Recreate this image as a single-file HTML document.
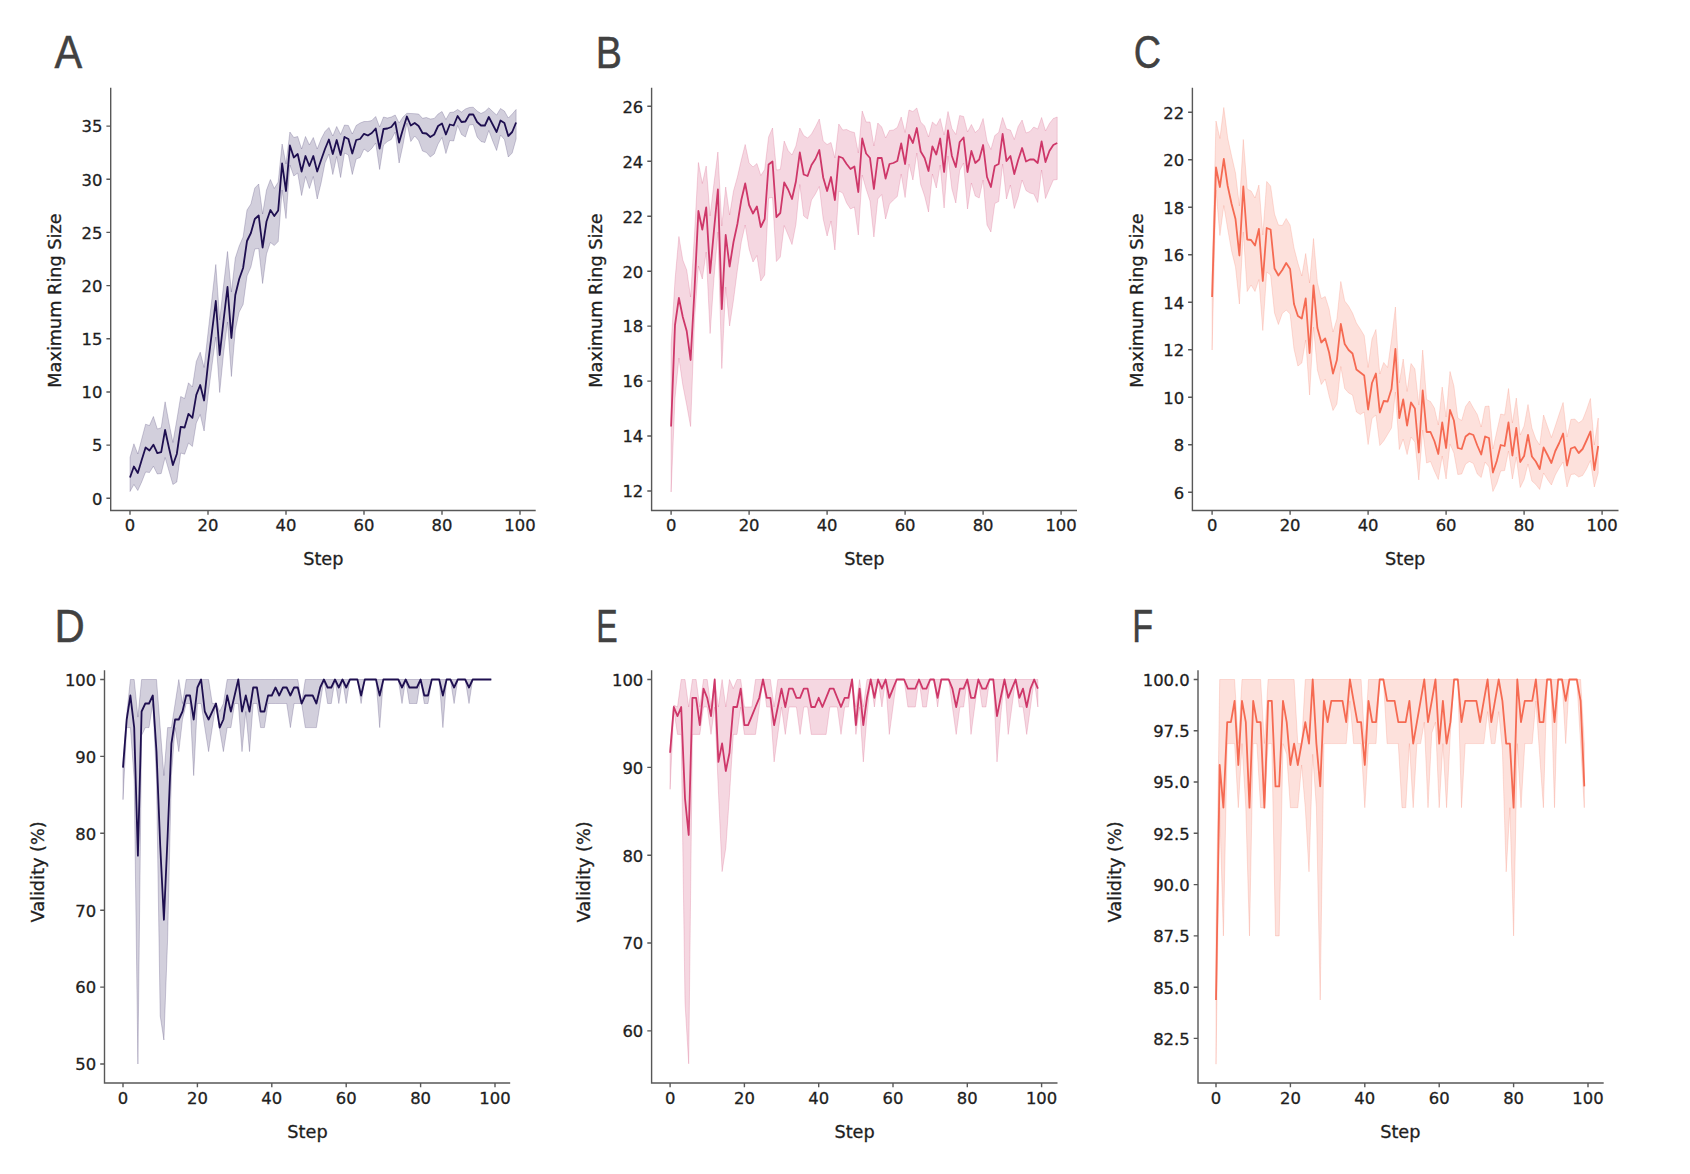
<!DOCTYPE html>
<html lang="en"><head><meta charset="utf-8"><title>Figure</title>
<style>
html,body{margin:0;padding:0;background:#fff;}
body{width:1690px;height:1174px;overflow:hidden;}
svg{display:block;}
</style></head><body>
<svg width="1690" height="1174" viewBox="0 0 1690 1174">
<rect width="1690" height="1174" fill="#ffffff"/>
<polygon points="130,457.5 133.9,443.8 137.8,454 141.7,439 145.6,424.2 149.5,425.5 153.4,416.5 157.3,429 161.2,427.8 165.1,401.8 169,423 172.9,442.5 176.8,420 180.7,396.5 184.6,398.5 188.5,382.8 192.4,387 196.3,361.5 200.2,352.2 204.1,367.5 208,333 211.9,299 215.8,264.5 219.7,320 223.6,285 227.5,251.5 231.4,292 235.3,258 239.2,246 243.1,237 247,210 250.9,204 254.8,188 258.7,184 262.6,214 266.5,190 270.4,179.5 274.3,188.5 278.2,182 282.1,144 286,164 289.9,132 293.8,137.5 297.7,136.5 301.6,149 305.5,136.5 309.4,145 313.3,137.5 317.2,149 321.1,139 325,131.5 328.9,127.5 332.8,136 336.7,126.5 340.6,134.5 344.5,125 348.4,125.5 352.3,134 356.2,125.5 360.1,123 364,121.5 367.9,121.5 371.8,120.5 375.7,116.5 379.6,127 383.5,117 387.4,118 391.3,117 395.2,115 399.1,123 403,117 406.9,113.3 410.8,113.5 414.7,113.7 418.6,114 422.5,118.3 426.4,117.5 430.3,119 434.2,118.5 438.1,114 442,111.5 445.9,119.5 449.8,112.5 453.7,112 457.6,109.5 461.5,112 465.4,109 469.3,107.5 473.2,107.2 477.1,111 481,113.5 484.9,111.5 488.8,107.8 492.7,111.5 496.6,115 500.5,108.5 504.4,111 508.3,118 512.2,114 516.1,109.5 516.1,139 512.2,153 508.3,157 504.4,139.5 500.5,135 496.6,150.5 492.7,141 488.8,130.5 484.9,142.5 481,141.5 477.1,137 473.2,124.5 469.3,125 465.4,137 461.5,134.5 457.6,125.5 453.7,141 449.8,140.5 445.9,153.5 442,137.5 438.1,144 434.2,154 430.3,157 426.4,152.5 422.5,151 418.6,140.5 414.7,136 410.8,141.5 406.9,123 403,145 399.1,163 395.2,132 391.3,139.5 387.4,141.5 383.5,145 379.6,169.5 375.7,143 371.8,148.5 367.9,152 364,149 360.1,157.5 356.2,159 352.3,174.5 348.4,155 344.5,153 340.6,177.5 336.7,156.5 332.8,174.5 328.9,154 325,163 321.1,183 317.2,199 313.3,176.5 309.4,188.5 305.5,176.5 301.6,195.5 297.7,173 293.8,176 289.9,165 286,218.5 282.1,190 278.2,241.5 274.3,245.5 270.4,242.5 266.5,254 262.6,283.5 258.7,248.5 254.8,249 250.9,267 247,276 243.1,304.5 239.2,312 235.3,330 231.4,376.5 227.5,322 223.6,353 219.7,392.5 215.8,337 211.9,366 208,396 204.1,431 200.2,414.5 196.3,423 192.4,446.5 188.5,443 184.6,454.2 180.7,453 176.8,482 172.9,484.5 169,471 165.1,457.5 161.2,473.5 157.3,474 153.4,466.2 149.5,472.5 145.6,472 141.7,482 137.8,490.5 133.9,484.5 130,491.5" fill="#1e0f50" fill-opacity="0.2" stroke="#1e0f50" stroke-opacity="0.2" stroke-width="1" stroke-linejoin="round"/>
<polyline points="130,477.5 133.9,466.5 137.8,473 141.7,460 145.6,447.5 149.5,450.5 153.4,444.7 157.3,453.2 161.2,452.2 165.1,430 169,448 172.9,465 176.8,454 180.7,426.8 184.6,427.5 188.5,413.8 192.4,417.8 196.3,394.8 200.2,385 204.1,400.5 208,364 211.9,332.5 215.8,301 219.7,355 223.6,320 227.5,287 231.4,338 235.3,295 239.2,279 243.1,268 247,241 250.9,233 254.8,219 258.7,215.5 262.6,247.5 266.5,221.5 270.4,210 274.3,216 278.2,210.5 282.1,163.5 286,191 289.9,145.5 293.8,157.5 297.7,154 301.6,171.5 305.5,156 309.4,166 313.3,156 317.2,171.5 321.1,160 325,149 328.9,139.5 332.8,154 336.7,140 340.6,155 344.5,137 348.4,139 352.3,153.5 356.2,140 360.1,139 364,133.8 367.9,135.5 371.8,133 375.7,128.5 379.6,148.5 383.5,129 387.4,128.5 391.3,127 395.2,122 399.1,142.5 403,129 406.9,116.5 410.8,125.5 414.7,123 418.6,126 422.5,133 426.4,133.5 430.3,137 434.2,134.5 438.1,126 442,123.5 445.9,134.5 449.8,124.5 453.7,125.5 457.6,116 461.5,122 465.4,121.5 469.3,114.5 473.2,114.3 477.1,122 481,125.5 484.9,125.5 488.8,117 492.7,124.5 496.6,132 500.5,120.5 504.4,123 508.3,136 512.2,132 516.1,122.5" fill="none" stroke="#1e0f50" stroke-width="1.8" stroke-linejoin="round" stroke-linecap="butt"/>
<path d="M110.7,88.5 V510.5 H535" fill="none" stroke="#585858" stroke-width="1.4" stroke-linecap="square"/>
<path d="M130,510.5 v4.3 M208,510.5 v4.3 M286,510.5 v4.3 M364,510.5 v4.3 M442,510.5 v4.3 M520,510.5 v4.3 M110.7,498.3 h-4.3 M110.7,445.1 h-4.3 M110.7,392 h-4.3 M110.7,338.8 h-4.3 M110.7,285.6 h-4.3 M110.7,232.4 h-4.3 M110.7,179.2 h-4.3 M110.7,126.1 h-4.3" stroke="#585858" stroke-width="1.4" fill="none"/>
<g font-family='"DejaVu Sans", "Liberation Sans", sans-serif' font-size="16.4" fill="#1e1e1e" stroke="#1e1e1e" stroke-width="0.3">
<g text-anchor="middle">
<text x="130" y="531.1">0</text>
<text x="208" y="531.1">20</text>
<text x="286" y="531.1">40</text>
<text x="364" y="531.1">60</text>
<text x="442" y="531.1">80</text>
<text x="520" y="531.1">100</text>
</g><g text-anchor="end">
<text x="102.4" y="504.6">0</text>
<text x="102.4" y="451.4">5</text>
<text x="102.4" y="398.3">10</text>
<text x="102.4" y="345.1">15</text>
<text x="102.4" y="291.9">20</text>
<text x="102.4" y="238.7">25</text>
<text x="102.4" y="185.6">30</text>
<text x="102.4" y="132.4">35</text>
</g>
<text x="323.3" y="565" text-anchor="middle" font-size="17.7">Step</text>
<text transform="translate(60.7,300.5) rotate(-90)" text-anchor="middle" font-size="17.7">Maximum Ring Size</text>
</g>
<text transform="translate(54.49,67.60) scale(0.41515,0.45401)" font-family='"Liberation Sans", "DejaVu Sans", sans-serif' font-size="100" fill="#414141" stroke="#414141" stroke-width="1.1">A</text>
<polygon points="671.1,345 675,280 678.9,236.5 682.8,260 686.7,270 690.6,297 694.5,234 698.4,162.5 702.3,183.5 706.2,166 710.1,216 714,183 717.9,152 721.8,226 725.7,187 729.6,215 733.5,191 737.4,177 741.3,160 745.2,144.5 749.1,163 753,167 756.9,163.5 760.8,175.5 764.7,169.5 768.6,137 772.5,128 776.4,170 780.3,169.5 784.2,141 788.1,150.5 792,155 795.9,146 799.8,128 803.7,135.5 807.6,138 811.5,134 815.4,127 819.3,119 823.2,141 827.1,144.5 831,142.5 834.9,158 838.8,124 842.7,130 846.6,129.5 850.5,131.5 854.4,132.5 858.3,153 862.2,111 866.1,122 870,122 873.9,146 877.8,123 881.7,127 885.6,138 889.5,130.5 893.4,130 897.3,127.5 901.2,117 905.1,132.5 909,110 912.9,111.5 916.8,108 920.7,122 924.6,126 928.5,137 932.4,122 936.3,125.5 940.2,118.5 944.1,135 948,111.5 951.9,128.5 955.8,134.5 959.7,115.5 963.6,116.5 967.5,132 971.4,124.5 975.3,132.5 979.2,129 983.1,118.5 987,141 990.9,149.5 994.8,135.5 998.7,132.5 1002.6,117.5 1006.5,129 1010.4,130 1014.3,139.5 1018.2,126.5 1022.1,120 1026,133 1029.9,131.5 1033.8,127 1037.7,129 1041.6,117.5 1045.5,131 1049.4,123.5 1053.3,118.5 1057.2,117 1057.2,179.5 1053.3,180 1049.4,189 1045.5,198.5 1041.6,170 1037.7,202.5 1033.8,194 1029.9,193 1026,190.5 1022.1,180 1018.2,197 1014.3,208.5 1010.4,185 1006.5,199 1002.6,164 998.7,201.5 994.8,203.5 990.9,232 987,225 983.1,180 979.2,198 975.3,196 971.4,183 967.5,209 963.6,163 959.7,170.5 955.8,203 951.9,189 948,156 944.1,208 940.2,165 936.3,188 932.4,174 928.5,212 924.6,196 920.7,184.5 916.8,153 912.9,180 909,164 905.1,197.5 901.2,174 897.3,196.5 893.4,200 889.5,204 885.6,219 881.7,194.5 877.8,199 873.9,237 870,201 866.1,189 862.2,175 858.3,235 854.4,207 850.5,209 846.6,203 842.7,193 838.8,191 834.9,250 831,221 827.1,236 823.2,219 819.3,186.5 815.4,194 811.5,200 807.6,219 803.7,216 799.8,184.5 795.9,224.5 792,244.5 788.1,235 784.2,225.5 780.3,257 776.4,261.5 772.5,197.5 768.6,198 764.7,275 760.8,281 756.9,255.5 753,262 749.1,249 745.2,225 741.3,242 737.4,270 733.5,300 729.6,326 725.7,287 721.8,368.5 717.9,232 714,278 710.1,333.5 706.2,252 702.3,279 698.4,266 694.5,320 690.6,426.5 686.7,405 682.8,385 678.9,358 675,398 671.1,492" fill="#ce3769" fill-opacity="0.2" stroke="#ce3769" stroke-opacity="0.2" stroke-width="1" stroke-linejoin="round"/>
<polyline points="671.1,426.5 675,325 678.9,298 682.8,317 686.7,331 690.6,360 694.5,290 698.4,211 702.3,229.5 706.2,207.5 710.1,273 714,230 717.9,189.5 721.8,309 725.7,235 729.6,266.5 733.5,242 737.4,224 741.3,200 745.2,183.5 749.1,205 753,213.5 756.9,206.5 760.8,227 764.7,219 768.6,164.5 772.5,161.5 776.4,217 780.3,213 784.2,182.5 788.1,189.5 792,199 795.9,181.5 799.8,152.5 803.7,174.5 807.6,176 811.5,165 815.4,159 819.3,150 823.2,177.5 827.1,191 831,177 834.9,200 838.8,156.5 842.7,158 846.6,164 850.5,169 854.4,166.5 858.3,192 862.2,138.5 866.1,153.5 870,158 873.9,189 877.8,158 881.7,158 885.6,178.5 889.5,164 893.4,163 897.3,161 901.2,143.5 905.1,164 909,135 912.9,143 916.8,128 920.7,151.5 924.6,158 928.5,171 932.4,146.5 936.3,154.5 940.2,138.5 944.1,172 948,130.5 951.9,156 955.8,167 959.7,142 963.6,137.5 967.5,172 971.4,151 975.3,163 979.2,159.5 983.1,145 987,177 990.9,187 994.8,166 998.7,164 1002.6,134 1006.5,161 1010.4,156 1014.3,174 1018.2,160 1022.1,148 1026,161.5 1029.9,159.5 1033.8,159.5 1037.7,163 1041.6,141.5 1045.5,162 1049.4,151 1053.3,145 1057.2,143" fill="none" stroke="#ce3769" stroke-width="1.8" stroke-linejoin="round" stroke-linecap="butt"/>
<path d="M651.6,88.5 V510.5 H1076.3" fill="none" stroke="#585858" stroke-width="1.4" stroke-linecap="square"/>
<path d="M671.1,510.5 v4.3 M749.1,510.5 v4.3 M827.1,510.5 v4.3 M905.1,510.5 v4.3 M983.1,510.5 v4.3 M1061.1,510.5 v4.3 M651.6,491 h-4.3 M651.6,436 h-4.3 M651.6,381.1 h-4.3 M651.6,326.1 h-4.3 M651.6,271.2 h-4.3 M651.6,216.2 h-4.3 M651.6,161.2 h-4.3 M651.6,106.3 h-4.3" stroke="#585858" stroke-width="1.4" fill="none"/>
<g font-family='"DejaVu Sans", "Liberation Sans", sans-serif' font-size="16.4" fill="#1e1e1e" stroke="#1e1e1e" stroke-width="0.3">
<g text-anchor="middle">
<text x="671.1" y="531.1">0</text>
<text x="749.1" y="531.1">20</text>
<text x="827.1" y="531.1">40</text>
<text x="905.1" y="531.1">60</text>
<text x="983.1" y="531.1">80</text>
<text x="1061.1" y="531.1">100</text>
</g><g text-anchor="end">
<text x="643.3" y="497.3">12</text>
<text x="643.3" y="442.3">14</text>
<text x="643.3" y="387.4">16</text>
<text x="643.3" y="332.4">18</text>
<text x="643.3" y="277.5">20</text>
<text x="643.3" y="222.5">22</text>
<text x="643.3" y="167.5">24</text>
<text x="643.3" y="112.6">26</text>
</g>
<text x="864.3" y="565" text-anchor="middle" font-size="17.7">Step</text>
<text transform="translate(601.6,300.5) rotate(-90)" text-anchor="middle" font-size="17.7">Maximum Ring Size</text>
</g>
<text transform="translate(595.66,67.60) scale(0.39252,0.45072)" font-family='"Liberation Sans", "DejaVu Sans", sans-serif' font-size="100" fill="#414141" stroke="#414141" stroke-width="1.1">B</text>
<polygon points="1212.1,275 1216,121 1219.9,138.5 1223.8,107.5 1227.7,138 1231.6,156 1235.5,173 1239.4,206 1243.3,139.5 1247.2,189 1251.1,191 1255,198 1258.9,185 1262.8,235 1266.7,181.5 1270.6,186 1274.5,214 1278.4,225 1282.3,225.5 1286.2,218.5 1290.1,225 1294,248 1297.9,263 1301.8,276 1305.7,253.5 1309.6,283 1313.5,238.5 1317.4,282.5 1321.3,298.5 1325.2,296.5 1329.1,309 1333,332 1336.9,319 1340.8,281.5 1344.7,301 1348.6,306 1352.5,313 1356.4,323 1360.3,329 1364.2,335.5 1368.1,367.5 1372,339 1375.9,329.5 1379.8,374 1383.7,362.5 1387.6,367.5 1391.5,340 1395.4,307 1399.3,383 1403.2,359 1407.1,391.5 1411,363.5 1414.9,369 1418.8,405 1422.7,350 1426.6,399.5 1430.5,401.5 1434.4,408 1438.3,425 1442.2,387 1446.1,417 1450,371.5 1453.9,386 1457.8,418 1461.7,420.5 1465.6,406.5 1469.5,401 1473.4,408 1477.3,414.5 1481.2,427 1485.1,406.5 1489,406 1492.9,449 1496.8,431.5 1500.7,414 1504.6,415 1508.5,388.5 1512.4,423 1516.3,398 1520.2,435 1524.1,426 1528,404.5 1531.9,428 1535.8,439 1539.7,445 1543.6,415 1547.5,426.5 1551.4,437.5 1555.3,426 1559.2,414 1563.1,402.5 1567,437 1570.9,419.5 1574.8,419 1578.7,423 1582.6,420 1586.5,410 1590.4,398.5 1594.3,445 1598.2,418 1598.2,473 1594.3,487 1590.4,460.5 1586.5,469 1582.6,475.5 1578.7,477 1574.8,474 1570.9,474.5 1567,487 1563.1,462 1559.2,468 1555.3,475 1551.4,485 1547.5,479.5 1543.6,473 1539.7,489.5 1535.8,484.5 1531.9,481 1528,464 1524.1,479.5 1520.2,487.5 1516.3,457 1512.4,479 1508.5,451 1504.6,470.5 1500.7,471 1496.8,483.5 1492.9,491.5 1489,467 1485.1,462 1481.2,477.5 1477.3,474 1473.4,463.5 1469.5,461.5 1465.6,464 1461.7,474 1457.8,474.5 1453.9,453 1450,444 1446.1,479 1442.2,456 1438.3,479.5 1434.4,471 1430.5,461.5 1426.6,463 1422.7,430 1418.8,480 1414.9,442 1411,437 1407.1,454.5 1403.2,439 1399.3,449.5 1395.4,392 1391.5,428 1387.6,434.5 1383.7,441 1379.8,445.5 1375.9,415 1372,418.5 1368.1,444.5 1364.2,412 1360.3,414.5 1356.4,412 1352.5,395 1348.6,393 1344.7,388.5 1340.8,366.5 1336.9,404 1333,410.5 1329.1,396 1325.2,379 1321.3,384.5 1317.4,370 1313.5,327 1309.6,395 1305.7,340 1301.8,363 1297.9,366 1294,349 1290.1,314 1286.2,310 1282.3,313.5 1278.4,324.5 1274.5,313 1270.6,275 1266.7,272 1262.8,330.5 1258.9,279.5 1255,291.5 1251.1,285 1247.2,291.5 1243.3,232 1239.4,304 1235.5,267 1231.6,251 1227.7,229 1223.8,205.5 1219.9,235.5 1216,190 1212.1,350" fill="#f56a52" fill-opacity="0.2" stroke="#f56a52" stroke-opacity="0.2" stroke-width="1" stroke-linejoin="round"/>
<polyline points="1212.1,297 1216,167.5 1219.9,187 1223.8,159 1227.7,186 1231.6,204 1235.5,219 1239.4,255.5 1243.3,186.5 1247.2,239.5 1251.1,240 1255,245.5 1258.9,229 1262.8,281 1266.7,228 1270.6,229.5 1274.5,268.5 1278.4,275.5 1282.3,270 1286.2,263 1290.1,269 1294,304 1297.9,316 1301.8,318.5 1305.7,298.5 1309.6,353 1313.5,285.5 1317.4,328 1321.3,342.5 1325.2,338.5 1329.1,352.5 1333,373.5 1336.9,360 1340.8,324 1344.7,344 1348.6,350 1352.5,353.5 1356.4,369.5 1360.3,372.5 1364.2,375.5 1368.1,409.5 1372,383 1375.9,373.5 1379.8,412.5 1383.7,401 1387.6,401.5 1391.5,389 1395.4,349 1399.3,418 1403.2,399.5 1407.1,425.5 1411,402.5 1414.9,408.5 1418.8,452.5 1422.7,390.5 1426.6,432 1430.5,432 1434.4,441 1438.3,454 1442.2,422.5 1446.1,448 1450,410 1453.9,420.5 1457.8,448 1461.7,449 1465.6,436.5 1469.5,433.5 1473.4,435 1477.3,445.5 1481.2,454.5 1485.1,436.5 1489,438 1492.9,472.5 1496.8,461 1500.7,445 1504.6,446 1508.5,422.5 1512.4,455.5 1516.3,428 1520.2,462 1524.1,456 1528,435 1531.9,456.5 1535.8,461.5 1539.7,469 1543.6,447.5 1547.5,455 1551.4,463 1555.3,451 1559.2,443 1563.1,433.5 1567,465.5 1570.9,448.5 1574.8,447 1578.7,453 1582.6,449 1586.5,440.5 1590.4,431.5 1594.3,470 1598.2,446" fill="none" stroke="#f56a52" stroke-width="1.8" stroke-linejoin="round" stroke-linecap="butt"/>
<path d="M1192.4,88.5 V510.5 H1617.8" fill="none" stroke="#585858" stroke-width="1.4" stroke-linecap="square"/>
<path d="M1212.1,510.5 v4.3 M1290.1,510.5 v4.3 M1368.1,510.5 v4.3 M1446.1,510.5 v4.3 M1524.1,510.5 v4.3 M1602.1,510.5 v4.3 M1192.4,492.3 h-4.3 M1192.4,444.8 h-4.3 M1192.4,397.3 h-4.3 M1192.4,349.8 h-4.3 M1192.4,302.3 h-4.3 M1192.4,254.8 h-4.3 M1192.4,207.3 h-4.3 M1192.4,159.8 h-4.3 M1192.4,112.3 h-4.3" stroke="#585858" stroke-width="1.4" fill="none"/>
<g font-family='"DejaVu Sans", "Liberation Sans", sans-serif' font-size="16.4" fill="#1e1e1e" stroke="#1e1e1e" stroke-width="0.3">
<g text-anchor="middle">
<text x="1212.1" y="531.1">0</text>
<text x="1290.1" y="531.1">20</text>
<text x="1368.1" y="531.1">40</text>
<text x="1446.1" y="531.1">60</text>
<text x="1524.1" y="531.1">80</text>
<text x="1602.1" y="531.1">100</text>
</g><g text-anchor="end">
<text x="1184.1" y="498.6">6</text>
<text x="1184.1" y="451.1">8</text>
<text x="1184.1" y="403.6">10</text>
<text x="1184.1" y="356.1">12</text>
<text x="1184.1" y="308.6">14</text>
<text x="1184.1" y="261.1">16</text>
<text x="1184.1" y="213.6">18</text>
<text x="1184.1" y="166.1">20</text>
<text x="1184.1" y="118.6">22</text>
</g>
<text x="1405.2" y="565" text-anchor="middle" font-size="17.7">Step</text>
<text transform="translate(1142.6,300.5) rotate(-90)" text-anchor="middle" font-size="17.7">Maximum Ring Size</text>
</g>
<text transform="translate(1133.81,67.83) scale(0.37778,0.46831)" font-family='"Liberation Sans", "DejaVu Sans", sans-serif' font-size="100" fill="#414141" stroke="#414141" stroke-width="1.1">C</text>
<polygon points="123,762 126.7,713.9 130.4,679.5 134.2,679.5 137.9,717.1 141.6,679.5 145.3,679.5 149,679.5 152.8,679.5 156.5,679.5 160.2,727.6 163.9,775.6 167.6,727.6 171.4,727.6 175.1,703.5 178.8,679.5 182.5,703.5 186.2,679.5 190,679.5 193.7,679.5 197.4,679.5 201.1,679.5 204.8,679.5 208.6,679.5 212.3,703.5 216,703.5 219.7,711.5 223.4,703.5 227.2,679.5 230.9,679.5 234.6,679.5 238.3,679.5 242,679.5 245.8,679.5 249.5,679.5 253.2,679.5 256.9,679.5 260.6,679.5 264.4,679.5 268.1,679.5 271.8,679.5 275.5,679.5 279.2,679.5 283,679.5 286.7,679.5 290.4,679.5 294.1,679.5 297.8,679.5 301.6,703.5 305.3,679.5 309,679.5 312.7,679.5 316.4,679.5 320.2,679.5 323.9,679.5 327.6,679.5 331.3,679.5 335,679.5 338.8,679.5 342.5,679.5 346.2,679.5 349.9,679.5 353.6,679.5 357.4,679.5 361.1,679.5 364.8,679.5 368.5,679.5 372.2,679.5 376,679.5 379.7,679.5 383.4,679.5 387.1,679.5 390.8,679.5 394.6,679.5 398.3,679.5 402,679.5 405.7,679.5 409.4,679.5 413.2,679.5 416.9,679.5 420.6,679.5 424.3,679.5 428,679.5 431.8,679.5 435.5,679.5 439.2,679.5 442.9,679.5 446.6,679.5 450.4,679.5 454.1,679.5 457.8,679.5 461.5,679.5 465.2,679.5 469,679.5 472.7,679.5 476.4,679.5 480.1,679.5 483.8,679.5 487.6,679.5 491.3,679.5 491.3,679.5 487.6,679.5 483.8,679.5 480.1,679.5 476.4,679.5 472.7,679.5 469,703.5 465.2,679.5 461.5,679.5 457.8,679.5 454.1,703.5 450.4,679.5 446.6,679.5 442.9,727.6 439.2,679.5 435.5,679.5 431.8,679.5 428,703.5 424.3,703.5 420.6,679.5 416.9,703.5 413.2,703.5 409.4,703.5 405.7,679.5 402,703.5 398.3,679.5 394.6,679.5 390.8,679.5 387.1,679.5 383.4,679.5 379.7,727.6 376,679.5 372.2,679.5 368.5,679.5 364.8,679.5 361.1,703.5 357.4,679.5 353.6,679.5 349.9,679.5 346.2,703.5 342.5,679.5 338.8,703.5 335,679.5 331.3,703.5 327.6,703.5 323.9,679.5 320.2,703.5 316.4,727.6 312.7,727.6 309,727.6 305.3,727.6 301.6,703.5 297.8,703.5 294.1,703.5 290.4,727.6 286.7,703.5 283,703.5 279.2,703.5 275.5,703.5 271.8,703.5 268.1,703.5 264.4,727.6 260.6,727.6 256.9,703.5 253.2,703.5 249.5,751.6 245.8,711.5 242,751.6 238.3,703.5 234.6,703.5 230.9,727.6 227.2,727.6 223.4,751.6 219.7,730 216,703.5 212.3,727.6 208.6,751.6 204.8,727.6 201.1,703.5 197.4,703.5 193.7,775.6 190,703.5 186.2,703.5 182.5,719.5 178.8,751.6 175.1,727.6 171.4,775.6 167.6,939.8 163.9,1040 160.2,1015.9 156.5,779.6 152.8,703.5 149,727.6 145.3,727.6 141.6,735.6 137.9,1064 134.2,779.6 130.4,727.6 126.7,727.6 123,799.6" fill="#1e0f50" fill-opacity="0.2" stroke="#1e0f50" stroke-opacity="0.2" stroke-width="1" stroke-linejoin="round"/>
<polyline points="123,767.6 126.7,719.5 130.4,695.5 134.2,727.6 137.9,855.7 141.6,711.5 145.3,703.5 149,703.5 152.8,695.5 156.5,751.6 160.2,845.3 163.9,919.8 167.6,836.5 171.4,743.6 175.1,719.5 178.8,719.5 182.5,711.5 186.2,695.5 190,695.5 193.7,719.5 197.4,687.5 201.1,679.5 204.8,711.5 208.6,719.5 212.3,711.5 216,703.5 219.7,727.6 223.4,719.5 227.2,695.5 230.9,711.5 234.6,695.5 238.3,679.5 242,711.5 245.8,695.5 249.5,711.5 253.2,687.5 256.9,687.5 260.6,711.5 264.4,711.5 268.1,695.5 271.8,695.5 275.5,687.5 279.2,695.5 283,687.5 286.7,687.5 290.4,695.5 294.1,687.5 297.8,687.5 301.6,703.5 305.3,695.5 309,695.5 312.7,695.5 316.4,703.5 320.2,687.5 323.9,679.5 327.6,687.5 331.3,687.5 335,679.5 338.8,687.5 342.5,679.5 346.2,687.5 349.9,679.5 353.6,679.5 357.4,679.5 361.1,695.5 364.8,679.5 368.5,679.5 372.2,679.5 376,679.5 379.7,695.5 383.4,679.5 387.1,679.5 390.8,679.5 394.6,679.5 398.3,679.5 402,687.5 405.7,679.5 409.4,687.5 413.2,687.5 416.9,687.5 420.6,679.5 424.3,695.5 428,695.5 431.8,679.5 435.5,679.5 439.2,679.5 442.9,695.5 446.6,679.5 450.4,679.5 454.1,687.5 457.8,679.5 461.5,679.5 465.2,679.5 469,687.5 472.7,679.5 476.4,679.5 480.1,679.5 483.8,679.5 487.6,679.5 491.3,679.5" fill="none" stroke="#1e0f50" stroke-width="1.8" stroke-linejoin="round" stroke-linecap="butt"/>
<path d="M104.5,671 V1083 H509.5" fill="none" stroke="#585858" stroke-width="1.4" stroke-linecap="square"/>
<path d="M123,1083 v4.3 M197.4,1083 v4.3 M271.8,1083 v4.3 M346.2,1083 v4.3 M420.6,1083 v4.3 M495,1083 v4.3 M104.5,1064 h-4.3 M104.5,987.1 h-4.3 M104.5,910.2 h-4.3 M104.5,833.3 h-4.3 M104.5,756.4 h-4.3 M104.5,679.5 h-4.3" stroke="#585858" stroke-width="1.4" fill="none"/>
<g font-family='"DejaVu Sans", "Liberation Sans", sans-serif' font-size="16.4" fill="#1e1e1e" stroke="#1e1e1e" stroke-width="0.3">
<g text-anchor="middle">
<text x="123" y="1103.6">0</text>
<text x="197.4" y="1103.6">20</text>
<text x="271.8" y="1103.6">40</text>
<text x="346.2" y="1103.6">60</text>
<text x="420.6" y="1103.6">80</text>
<text x="495" y="1103.6">100</text>
</g><g text-anchor="end">
<text x="96.2" y="1070.3">50</text>
<text x="96.2" y="993.4">60</text>
<text x="96.2" y="916.5">70</text>
<text x="96.2" y="839.6">80</text>
<text x="96.2" y="762.7">90</text>
<text x="96.2" y="685.8">100</text>
</g>
<text x="307.5" y="1138" text-anchor="middle" font-size="17.7">Step</text>
<text transform="translate(44.4,872) rotate(-90)" text-anchor="middle" font-size="17.7">Validity (%)</text>
</g>
<text transform="translate(54.45,642.30) scale(0.41849,0.46232)" font-family='"Liberation Sans", "DejaVu Sans", sans-serif' font-size="100" fill="#414141" stroke="#414141" stroke-width="1.1">D</text>
<polygon points="670.1,748.1 673.8,705.1 677.5,707 681.2,679.5 685,679.5 688.7,707 692.4,679.5 696.1,679.5 699.8,707 703.5,679.5 707.2,679.5 711,707 714.7,679.5 718.4,707 722.1,679.5 725.8,707 729.5,679.5 733.3,688.6 737,679.5 740.7,679.5 744.4,707 748.1,707 751.8,707 755.5,679.5 759.3,679.5 763,679.5 766.7,679.5 770.4,679.5 774.1,707 777.8,679.5 781.5,679.5 785.3,679.5 789,679.5 792.7,679.5 796.4,679.5 800.1,679.5 803.8,679.5 807.6,679.5 811.3,679.5 815,679.5 818.7,679.5 822.4,679.5 826.1,679.5 829.8,679.5 833.6,679.5 837.3,679.5 841,679.5 844.7,679.5 848.4,679.5 852.1,679.5 855.9,707 859.6,679.5 863.3,707 867,679.5 870.7,679.5 874.4,679.5 878.1,679.5 881.9,679.5 885.6,679.5 889.3,679.5 893,679.5 896.7,679.5 900.4,679.5 904.1,679.5 907.9,679.5 911.6,679.5 915.3,679.5 919,679.5 922.7,679.5 926.4,679.5 930.2,679.5 933.9,679.5 937.6,679.5 941.3,679.5 945,679.5 948.7,679.5 952.4,679.5 956.2,679.5 959.9,679.5 963.6,679.5 967.3,679.5 971,679.5 974.7,679.5 978.4,679.5 982.2,679.5 985.9,679.5 989.6,679.5 993.3,679.5 997,679.5 1000.7,679.5 1004.5,679.5 1008.2,679.5 1011.9,679.5 1015.6,679.5 1019.3,679.5 1023,679.5 1026.7,679.5 1030.5,679.5 1034.2,679.5 1037.9,679.5 1037.9,707 1034.2,679.5 1030.5,707 1026.7,734.4 1023,707 1019.3,707 1015.6,679.5 1011.9,707 1008.2,734.4 1004.5,679.5 1000.7,716.1 997,761.9 993.3,679.5 989.6,679.5 985.9,707 982.2,707 978.4,679.5 974.7,707 971,734.4 967.3,679.5 963.6,707 959.9,707 956.2,734.4 952.4,707 948.7,679.5 945,679.5 941.3,679.5 937.6,707 933.9,679.5 930.2,679.5 926.4,707 922.7,707 919,679.5 915.3,707 911.6,707 907.9,707 904.1,679.5 900.4,679.5 896.7,679.5 893,707 889.3,734.4 885.6,679.5 881.9,707 878.1,679.5 874.4,707 870.7,679.5 867,716.1 863.3,761.9 859.6,707 855.9,734.4 852.1,679.5 848.4,707 844.7,707 841,734.4 837.3,707 833.6,707 829.8,707 826.1,734.4 822.4,734.4 818.7,734.4 815,734.4 811.3,734.4 807.6,707 803.8,707 800.1,734.4 796.4,707 792.7,707 789,707 785.3,734.4 781.5,707 777.8,734.4 774.1,761.9 770.4,707 766.7,707 763,679.5 759.3,707 755.5,734.4 751.8,734.4 748.1,734.4 744.4,734.4 740.7,707 737,734.4 733.3,734.4 729.5,794.8 725.8,847.9 722.1,871.6 718.4,791.1 714.7,707 711,734.4 707.2,707 703.5,707 699.8,734.4 696.1,734.4 692.4,734.4 688.7,1063.8 685,1002.5 681.2,734.4 677.5,734.4 673.8,709.7 670.1,789.3" fill="#ce3769" fill-opacity="0.2" stroke="#ce3769" stroke-opacity="0.2" stroke-width="1" stroke-linejoin="round"/>
<polyline points="670.1,752.7 673.8,707 677.5,716.1 681.2,707 685,798.5 688.7,835 692.4,697.8 696.1,697.8 699.8,725.2 703.5,688.6 707.2,697.8 711,716.1 714.7,679.5 718.4,761.9 722.1,743.5 725.8,771 729.5,752.7 733.3,707 737,707 740.7,688.6 744.4,725.2 748.1,725.2 751.8,716.1 755.5,707 759.3,697.8 763,679.5 766.7,697.8 770.4,697.8 774.1,725.2 777.8,707 781.5,688.6 785.3,707 789,688.6 792.7,688.6 796.4,697.8 800.1,697.8 803.8,688.6 807.6,688.6 811.3,707 815,707 818.7,697.8 822.4,707 826.1,697.8 829.8,688.6 833.6,688.6 837.3,697.8 841,707 844.7,697.8 848.4,697.8 852.1,679.5 855.9,725.2 859.6,688.6 863.3,725.2 867,697.8 870.7,679.5 874.4,697.8 878.1,679.5 881.9,688.6 885.6,679.5 889.3,697.8 893,688.6 896.7,679.5 900.4,679.5 904.1,679.5 907.9,688.6 911.6,688.6 915.3,688.6 919,679.5 922.7,688.6 926.4,688.6 930.2,679.5 933.9,679.5 937.6,697.8 941.3,679.5 945,679.5 948.7,679.5 952.4,688.6 956.2,707 959.9,688.6 963.6,688.6 967.3,679.5 971,697.8 974.7,697.8 978.4,679.5 982.2,688.6 985.9,688.6 989.6,679.5 993.3,679.5 997,716.1 1000.7,697.8 1004.5,679.5 1008.2,697.8 1011.9,688.6 1015.6,679.5 1019.3,697.8 1023,688.6 1026.7,707 1030.5,688.6 1034.2,679.5 1037.9,688.6" fill="none" stroke="#ce3769" stroke-width="1.8" stroke-linejoin="round" stroke-linecap="butt"/>
<path d="M651.6,671 V1083 H1056.8" fill="none" stroke="#585858" stroke-width="1.4" stroke-linecap="square"/>
<path d="M670.1,1083 v4.3 M744.4,1083 v4.3 M818.7,1083 v4.3 M893,1083 v4.3 M967.3,1083 v4.3 M1041.6,1083 v4.3 M651.6,1030.9 h-4.3 M651.6,943 h-4.3 M651.6,855.2 h-4.3 M651.6,767.4 h-4.3 M651.6,679.5 h-4.3" stroke="#585858" stroke-width="1.4" fill="none"/>
<g font-family='"DejaVu Sans", "Liberation Sans", sans-serif' font-size="16.4" fill="#1e1e1e" stroke="#1e1e1e" stroke-width="0.3">
<g text-anchor="middle">
<text x="670.1" y="1103.6">0</text>
<text x="744.4" y="1103.6">20</text>
<text x="818.7" y="1103.6">40</text>
<text x="893" y="1103.6">60</text>
<text x="967.3" y="1103.6">80</text>
<text x="1041.6" y="1103.6">100</text>
</g><g text-anchor="end">
<text x="643.3" y="1037.2">60</text>
<text x="643.3" y="949.3">70</text>
<text x="643.3" y="861.5">80</text>
<text x="643.3" y="773.6">90</text>
<text x="643.3" y="685.8">100</text>
</g>
<text x="854.6" y="1138" text-anchor="middle" font-size="17.7">Step</text>
<text transform="translate(590.4,872) rotate(-90)" text-anchor="middle" font-size="17.7">Validity (%)</text>
</g>
<text transform="translate(596.33,642.30) scale(0.32110,0.46087)" font-family='"Liberation Sans", "DejaVu Sans", sans-serif' font-size="100" fill="#414141" stroke="#414141" stroke-width="1.1">E</text>
<polygon points="1216,935.9 1219.7,679.5 1223.4,679.5 1227.2,679.5 1230.9,679.5 1234.6,679.5 1238.3,743.6 1242,679.5 1245.8,679.5 1249.5,679.5 1253.2,679.5 1256.9,679.5 1260.6,679.5 1264.4,743.6 1268.1,679.5 1271.8,679.5 1275.5,679.5 1279.2,679.5 1283,679.5 1286.7,679.5 1290.4,679.5 1294.1,679.5 1297.8,743.6 1301.6,743.6 1305.3,679.5 1309,679.5 1312.7,679.5 1316.4,679.5 1320.2,679.5 1323.9,679.5 1327.6,679.5 1331.3,679.5 1335,679.5 1338.8,679.5 1342.5,679.5 1346.2,679.5 1349.9,679.5 1353.6,679.5 1357.4,679.5 1361.1,679.5 1364.8,743.6 1368.5,679.5 1372.2,679.5 1376,679.5 1379.7,679.5 1383.4,679.5 1387.1,679.5 1390.8,679.5 1394.6,679.5 1398.3,679.5 1402,679.5 1405.7,679.5 1409.4,679.5 1413.2,679.5 1416.9,679.5 1420.6,679.5 1424.3,679.5 1428,679.5 1431.8,679.5 1435.5,679.5 1439.2,679.5 1442.9,679.5 1446.6,679.5 1450.4,679.5 1454.1,679.5 1457.8,679.5 1461.5,679.5 1465.2,679.5 1469,679.5 1472.7,679.5 1476.4,679.5 1480.1,679.5 1483.8,679.5 1487.6,679.5 1491.3,679.5 1495,679.5 1498.7,679.5 1502.4,679.5 1506.2,679.5 1509.9,679.5 1513.6,679.5 1517.3,679.5 1521,679.5 1524.8,679.5 1528.5,679.5 1532.2,679.5 1535.9,679.5 1539.6,679.5 1543.4,679.5 1547.1,679.5 1550.8,679.5 1554.5,679.5 1558.2,679.5 1562,679.5 1565.7,679.5 1569.4,679.5 1573.1,679.5 1576.8,679.5 1580.6,679.5 1584.3,743.6 1584.3,807.7 1580.6,743.6 1576.8,679.5 1573.1,679.5 1569.4,679.5 1565.7,743.6 1562,679.5 1558.2,679.5 1554.5,807.7 1550.8,679.5 1547.1,679.5 1543.4,807.7 1539.6,754.3 1535.9,700.9 1532.2,743.6 1528.5,743.6 1524.8,743.6 1521,807.7 1517.3,743.6 1513.6,935.9 1509.9,807.7 1506.2,871.8 1502.4,750 1498.7,711.6 1495,743.6 1491.3,743.6 1487.6,711.6 1483.8,743.6 1480.1,743.6 1476.4,743.6 1472.7,743.6 1469,743.6 1465.2,743.6 1461.5,807.7 1457.8,679.5 1454.1,679.5 1450.4,732.9 1446.6,807.7 1442.9,743.6 1439.2,807.7 1435.5,722.2 1431.8,732.9 1428,807.7 1424.3,722.2 1420.6,743.6 1416.9,743.6 1413.2,807.7 1409.4,743.6 1405.7,807.7 1402,807.7 1398.3,743.6 1394.6,743.6 1390.8,743.6 1387.1,743.6 1383.4,679.5 1379.7,679.5 1376,743.6 1372.2,743.6 1368.5,743.6 1364.8,807.7 1361.1,743.6 1357.4,743.6 1353.6,743.6 1349.9,700.9 1346.2,743.6 1342.5,743.6 1338.8,743.6 1335,743.6 1331.3,743.6 1327.6,743.6 1323.9,743.6 1320.2,1000 1316.4,807.7 1312.7,754.3 1309,871.8 1305.3,807.7 1301.6,765 1297.8,807.7 1294.1,807.7 1290.4,807.7 1286.7,754.3 1283,743.6 1279.2,935.9 1275.5,935.9 1271.8,743.6 1268.1,743.6 1264.4,807.7 1260.6,807.7 1256.9,743.6 1253.2,743.6 1249.5,935.9 1245.8,807.7 1242,743.6 1238.3,807.7 1234.6,743.6 1230.9,743.6 1227.2,743.6 1223.4,935.9 1219.7,807.7 1216,1064.2" fill="#f56a52" fill-opacity="0.2" stroke="#f56a52" stroke-opacity="0.2" stroke-width="1" stroke-linejoin="round"/>
<polyline points="1216,1000 1219.7,765 1223.4,807.7 1227.2,722.2 1230.9,722.2 1234.6,700.9 1238.3,765 1242,700.9 1245.8,722.2 1249.5,807.7 1253.2,700.9 1256.9,722.2 1260.6,722.2 1264.4,807.7 1268.1,700.9 1271.8,700.9 1275.5,786.4 1279.2,786.4 1283,700.9 1286.7,722.2 1290.4,765 1294.1,743.6 1297.8,765 1301.6,743.6 1305.3,722.2 1309,743.6 1312.7,679.5 1316.4,743.6 1320.2,786.4 1323.9,700.9 1327.6,722.2 1331.3,700.9 1335,700.9 1338.8,700.9 1342.5,700.9 1346.2,722.2 1349.9,679.5 1353.6,700.9 1357.4,722.2 1361.1,722.2 1364.8,765 1368.5,700.9 1372.2,722.2 1376,722.2 1379.7,679.5 1383.4,679.5 1387.1,700.9 1390.8,700.9 1394.6,700.9 1398.3,722.2 1402,722.2 1405.7,722.2 1409.4,700.9 1413.2,743.6 1416.9,722.2 1420.6,700.9 1424.3,679.5 1428,722.2 1431.8,700.9 1435.5,679.5 1439.2,743.6 1442.9,700.9 1446.6,743.6 1450.4,722.2 1454.1,679.5 1457.8,679.5 1461.5,722.2 1465.2,700.9 1469,700.9 1472.7,700.9 1476.4,700.9 1480.1,722.2 1483.8,700.9 1487.6,679.5 1491.3,722.2 1495,700.9 1498.7,679.5 1502.4,700.9 1506.2,743.6 1509.9,743.6 1513.6,807.7 1517.3,679.5 1521,722.2 1524.8,700.9 1528.5,700.9 1532.2,700.9 1535.9,679.5 1539.6,722.2 1543.4,722.2 1547.1,679.5 1550.8,679.5 1554.5,722.2 1558.2,679.5 1562,679.5 1565.7,700.9 1569.4,679.5 1573.1,679.5 1576.8,679.5 1580.6,700.9 1584.3,786.4" fill="none" stroke="#f56a52" stroke-width="1.8" stroke-linejoin="round" stroke-linecap="butt"/>
<path d="M1198,671 V1083 H1603" fill="none" stroke="#585858" stroke-width="1.4" stroke-linecap="square"/>
<path d="M1216,1083 v4.3 M1290.4,1083 v4.3 M1364.8,1083 v4.3 M1439.2,1083 v4.3 M1513.6,1083 v4.3 M1588,1083 v4.3 M1198,1038.4 h-4.3 M1198,987.2 h-4.3 M1198,935.9 h-4.3 M1198,884.6 h-4.3 M1198,833.3 h-4.3 M1198,782 h-4.3 M1198,730.8 h-4.3 M1198,679.5 h-4.3" stroke="#585858" stroke-width="1.4" fill="none"/>
<g font-family='"DejaVu Sans", "Liberation Sans", sans-serif' font-size="16.4" fill="#1e1e1e" stroke="#1e1e1e" stroke-width="0.3">
<g text-anchor="middle">
<text x="1216" y="1103.6">0</text>
<text x="1290.4" y="1103.6">20</text>
<text x="1364.8" y="1103.6">40</text>
<text x="1439.2" y="1103.6">60</text>
<text x="1513.6" y="1103.6">80</text>
<text x="1588" y="1103.6">100</text>
</g><g text-anchor="end">
<text x="1189.7" y="1044.7">82.5</text>
<text x="1189.7" y="993.5">85.0</text>
<text x="1189.7" y="942.2">87.5</text>
<text x="1189.7" y="890.9">90.0</text>
<text x="1189.7" y="839.6">92.5</text>
<text x="1189.7" y="788.3">95.0</text>
<text x="1189.7" y="737.1">97.5</text>
<text x="1189.7" y="685.8">100.0</text>
</g>
<text x="1400.3" y="1138" text-anchor="middle" font-size="17.7">Step</text>
<text transform="translate(1121.4,872) rotate(-90)" text-anchor="middle" font-size="17.7">Validity (%)</text>
</g>
<text transform="translate(1132.17,642.30) scale(0.34082,0.46087)" font-family='"Liberation Sans", "DejaVu Sans", sans-serif' font-size="100" fill="#414141" stroke="#414141" stroke-width="1.1">F</text>
</svg>
</body></html>
